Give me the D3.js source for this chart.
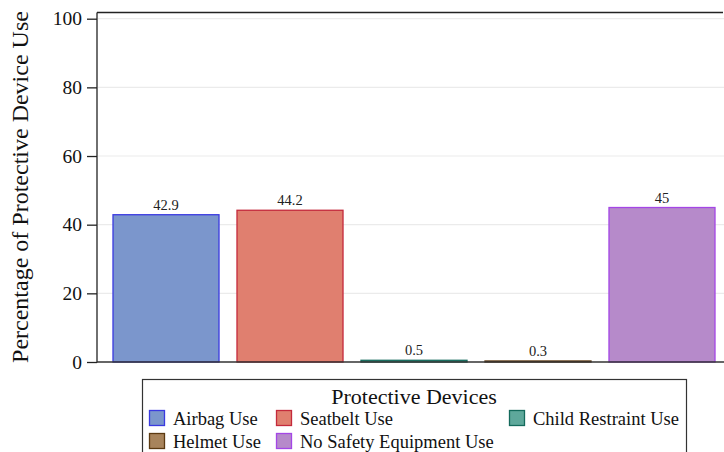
<!DOCTYPE html>
<html><head><meta charset="utf-8">
<script src="https://cdn.jsdelivr.net/npm/d3@7"></script>
<style>body{margin:0;background:#fff}svg{display:block}</style>
</head><body>
<script>
const categories = ["Airbag Use","Seatbelt Use","Child Restraint Use","Helmet Use","No Safety Equipment Use"];
const values = [42.9, 44.2, 0.5, 0.3, 45];
const valueLabels = ["42.9","44.2","0.5","0.3","45"];
const fills = ["#7b96cc","#e07f6f","#5ea89b","#a8845c","#b68aca"];
const strokes = ["#3a3ae0","#c42a3c","#146a5c","#5c3a12","#a446e6"];
const yTicks = [0,20,40,60,80,100];

const W = 724, H = 452;
const svg = d3.select("body").append("svg").attr("width", W).attr("height", H);
const font = "'Liberation Serif','Times New Roman',serif";

const y = d3.scaleLinear().domain([0, 100]).range([362, 18.7]);
const x = d3.scaleBand().domain(categories).range([97, 731]).paddingInner(0.145).paddingOuter(0.129);

// grid
svg.append("g").selectAll("line").data(yTicks.filter(d => d > 0)).join("line")
  .attr("x1", 98).attr("x2", 724).attr("y1", d => y(d)).attr("y2", d => y(d))
  .attr("stroke", "#ebebeb").attr("stroke-width", 1.2);

// top border
svg.append("line").attr("x1", 97).attr("x2", 723).attr("y1", 12.5).attr("y2", 12.5)
  .attr("stroke", "#222").attr("stroke-width", 1.3);

// bars
svg.append("g").selectAll("rect").data(categories).join("rect")
  .attr("x", d => x(d)).attr("width", x.bandwidth())
  .attr("y", (d, i) => y(values[i])).attr("height", (d, i) => y(0) - y(values[i]))
  .attr("fill", (d, i) => fills[i]).attr("stroke", (d, i) => strokes[i]).attr("stroke-width", 1.3);

// value labels
svg.append("g").selectAll("text").data(categories).join("text")
  .attr("x", d => x(d) + x.bandwidth() / 2).attr("y", (d, i) => y(values[i]) - 5)
  .attr("text-anchor", "middle").attr("font-family", font).attr("font-size", 14.5).attr("fill", "#222")
  .text((d, i) => valueLabels[i]);

// y axis
const yAxis = svg.append("g").attr("transform", "translate(97,0)")
  .call(d3.axisLeft(y).tickValues(yTicks).tickSize(10).tickPadding(5).tickFormat(d3.format("d")));
yAxis.select(".domain").attr("d", `M0,${12.5}V${362.5}`).attr("stroke", "#222").attr("stroke-width", 1.3);
yAxis.selectAll(".tick line").attr("stroke", "#222").attr("stroke-width", 1.3);
yAxis.selectAll(".tick text").attr("font-family", font).attr("font-size", 19.5).attr("fill", "#111");

// x axis baseline
svg.append("line").attr("x1", 97).attr("x2", 724).attr("y1", 362).attr("y2", 362)
  .attr("stroke", "#333").attr("stroke-width", 1.3);

// y title
svg.append("text").attr("transform", "translate(28,187) rotate(-90)")
  .attr("text-anchor", "middle").attr("font-family", font).attr("font-size", 24).attr("fill", "#111")
  .text("Percentage of Protective Device Use");

// legend
const lg = svg.append("g");
lg.append("rect").attr("x", 142.5).attr("y", 379.5).attr("width", 544).attr("height", 90)
  .attr("fill", "#fff").attr("stroke", "#333").attr("stroke-width", 1.2);
lg.append("text").attr("x", 414).attr("y", 404).attr("text-anchor", "middle")
  .attr("font-family", font).attr("font-size", 22).attr("fill", "#111").text("Protective Devices");
const legPos = [[149, 410], [276, 410], [509, 410], [149, 433], [276, 433]];
categories.forEach((c, i) => {
  const [lx, ly] = legPos[i];
  lg.append("rect").attr("x", lx + 0.5).attr("y", ly + 0.5).attr("width", 15).attr("height", 15)
    .attr("fill", fills[i]).attr("stroke", strokes[i]).attr("stroke-width", 1.3);
  lg.append("text").attr("x", lx + 24).attr("y", ly + 14.5).attr("font-family", font)
    .attr("font-size", 18.5).attr("fill", "#111").text(c);
});
</script>
</body></html>
